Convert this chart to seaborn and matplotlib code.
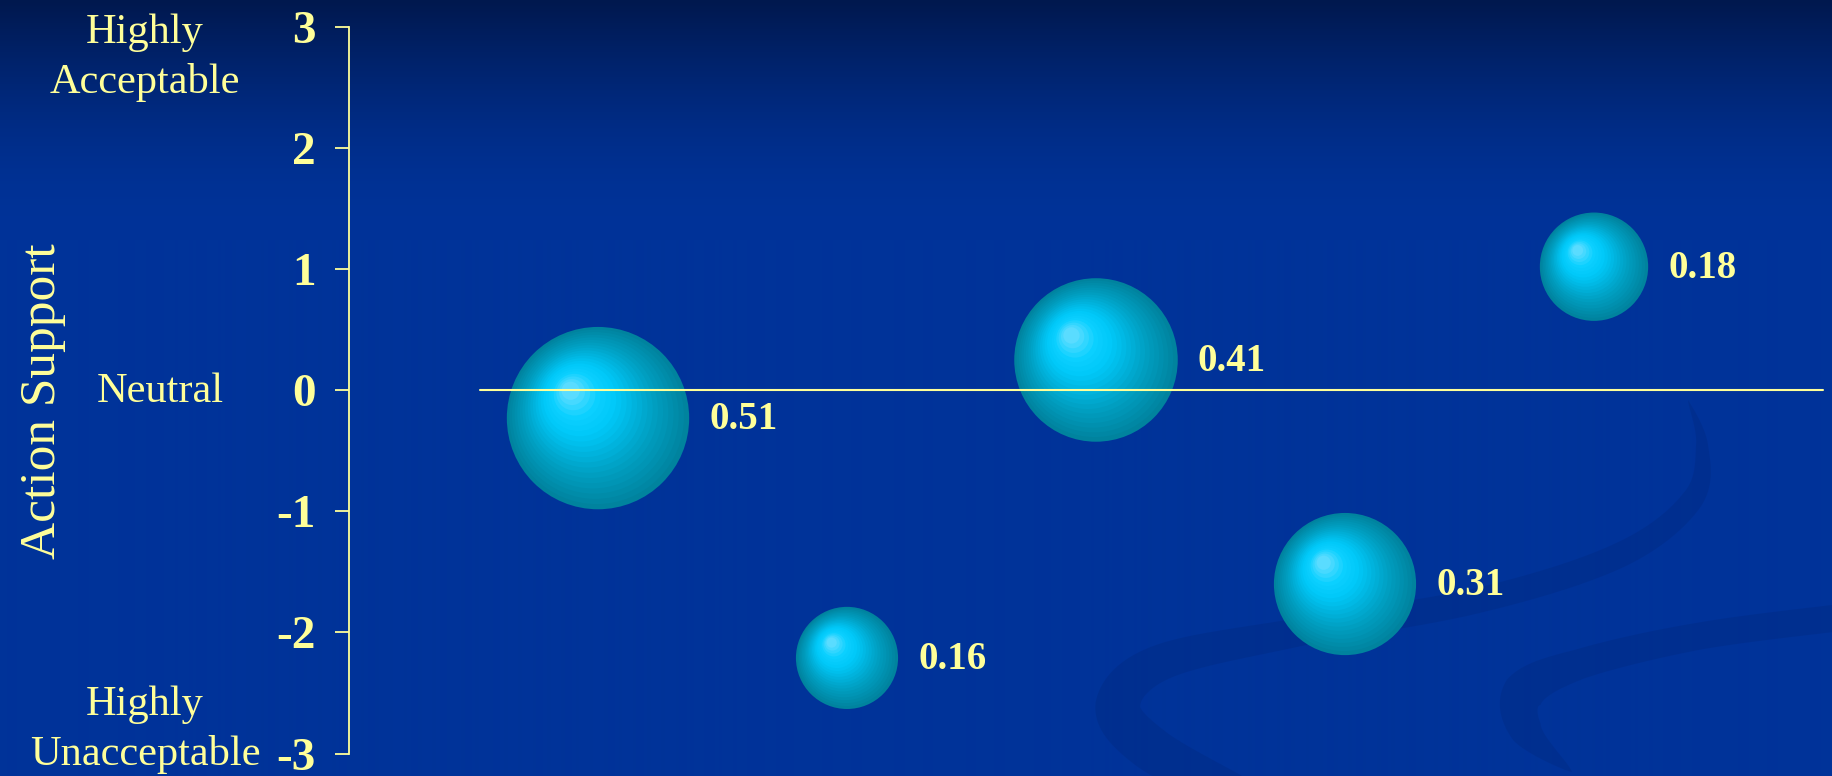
import numpy as np
import pandas as pd
import matplotlib
matplotlib.use("Agg")
import matplotlib.pyplot as plt
import seaborn as sns
from matplotlib.colors import LinearSegmentedColormap
from matplotlib.patches import Polygon

# ---------------- data ----------------
positions = [1, 2, 3, 4, 5]
support = [-0.23, -2.21, 0.25, -1.60, 1.02]
weights = [0.51, 0.16, 0.41, 0.31, 0.18]
weight_labels = ["0.51", "0.16", "0.41", "0.31", "0.18"]
y_ticks = [-3, -2, -1, 0, 1, 2, 3]
y_tick_labels = ["-3", "-2", "-1", "0", "1", "2", "3"]
y_axis_title = "Action Support"
top_anchor = "Highly\nAcceptable"
mid_anchor = "Neutral"
bottom_anchor = "Highly\nUnacceptable"

W, H, DPI = 1832, 776, 100
sns.set_theme(style="white")
plt.rcParams['font.family'] = ['Liberation Serif', 'DejaVu Serif']

YEL = '#ffff99'
BASE = np.array([0, 51, 153]) / 255
TOP = np.array([0, 24, 78]) / 255

fig = plt.figure(figsize=(W / DPI, H / DPI), dpi=DPI, facecolor=BASE)

# ---------------- background ----------------
bg = fig.add_axes([0, 0, 1, 1], zorder=-10)
rows = np.arange(H)
tt = np.clip(rows / 240.0, 0, 1)
tt = np.sin(tt * np.pi / 2)
grad = TOP[None, :] * (1 - tt[:, None]) + BASE[None, :] * tt[:, None]
img = np.repeat(grad[:, None, :], 2, axis=1)
bg.imshow(img, extent=[0, W, H, 0], aspect='auto', interpolation='bilinear')


def catmull(pts, n=24):
    pts = np.asarray(pts, float)
    P = np.vstack([pts[0], pts, pts[-1]])
    out = []
    for i in range(1, len(P) - 2):
        p0, p1, p2, p3 = P[i - 1], P[i], P[i + 1], P[i + 2]
        for s in np.linspace(0, 1, n, endpoint=False):
            out.append(0.5 * ((2 * p1) + (-p0 + p2) * s + (2 * p0 - 5 * p1 + 4 * p2 - p3) * s ** 2
                              + (-p0 + 3 * p1 - 3 * p2 + p3) * s ** 3))
    out.append(pts[-1])
    return np.array(out)


def band(center, widths):
    c = catmull(center)
    w = np.interp(np.linspace(0, 1, len(c)), np.linspace(0, 1, len(widths)), widths)
    d = np.gradient(c, axis=0)
    nrm = np.stack([-d[:, 1], d[:, 0]], 1)
    nrm /= np.linalg.norm(nrm, axis=1)[:, None]
    a = c + nrm * w[:, None] / 2
    b = c - nrm * w[:, None] / 2
    return np.vstack([a, b[::-1]])


swoosh1 = band([(1235, 795), (1150, 748), (1118, 705), (1162, 662), (1300, 632),
                (1480, 600), (1620, 555), (1692, 500), (1702, 445), (1688, 400)],
               [40, 45, 45, 36, 28, 25, 25, 22, 12, 0])
swoosh2 = band([(1572, 772), (1527, 732), (1524, 692), (1580, 664), (1700, 636), (1845, 617)],
               [0, 32, 42, 30, 27, 27])
for poly in (swoosh1, swoosh2):
    bg.add_patch(Polygon(poly, closed=True, facecolor='#00236f', edgecolor='none', alpha=0.22))
bg.set_xlim(0, W)
bg.set_ylim(H, 0)
bg.axis('off')

# ---------------- main axes ----------------
left_px, top_px, bot_px, unit_x = 349, 26.9, 753.6, 249
ax = fig.add_axes([left_px / W, (H - bot_px) / H, 1 - left_px / W, (bot_px - top_px) / H])
ax.set_facecolor('none')
xlim = (0, (W - left_px) / unit_x)
ylim = (-3, 3)
ax.set_xlim(*xlim)
ax.set_ylim(*ylim)

df = pd.DataFrame(dict(pos=positions, support=support, weight=weights, label=weight_labels))

K = 33800  # points^2 per unit of weight
vmin, vmax = min(weights), max(weights)
cmap = LinearSegmentedColormap.from_list(
    'bub', [(0, '#00839e'), (0.3, '#009fc2'), (0.65, '#00c8f8'), (0.82, '#0cd0ff'), (1, '#5adcff')])
N = 22
px_per_pt = DPI / 72
ux = ax.transData.transform((1, 0))[0] - ax.transData.transform((0, 0))[0]
uy = ax.transData.transform((0, 1))[1] - ax.transData.transform((0, 0))[1]
r_px = np.sqrt(K * df.weight) / 2 * px_per_pt

for i in range(N):
    t = i / (N - 1)
    f = 1 - 0.9 * t
    layer = df.copy()
    layer['x'] = df.pos - 0.3 * t * r_px / ux
    layer['y'] = df.support + 0.3 * t * r_px / uy
    sns.scatterplot(data=layer, x='x', y='y', size='weight',
                    sizes=(K * f * f * vmin, K * f * f * vmax), size_norm=(vmin, vmax),
                    color=cmap(t), linewidth=0, legend=False, ax=ax,
                    zorder=2 + i * 0.01, clip_on=False)

ax.set_xlim(*xlim)
ax.set_ylim(*ylim)

# neutral reference line
ax.axhline(0, xmin=0.526 / xlim[1], xmax=5.92 / xlim[1], color=YEL, lw=1.5, zorder=5)

# bubble labels
for _, row in df.iterrows():
    r_pt = np.sqrt(K * row.weight) / 2
    ax.annotate(row.label, (row.pos, row.support), xytext=(r_pt + 14.5, -1),
                textcoords='offset points', ha='left', va='center',
                fontsize=28, fontweight='bold', color=YEL, zorder=6)

# axis styling
ax.set_yticks(y_ticks)
ax.set_yticklabels(y_tick_labels, fontsize=34, fontweight='bold', color=YEL)
ax.set_xticks([])
ax.set_xlabel('')
ax.set_ylabel('')
ax.tick_params(axis='y', direction='out', length=10, width=1.3, color=YEL, pad=14, left=True)
for side in ['top', 'right', 'bottom']:
    ax.spines[side].set_visible(False)
ax.spines['left'].set_visible(True)
ax.spines['left'].set_color(YEL)
ax.spines['left'].set_linewidth(1.3)

# left-side texts
fig.text(145 / W, 1 - 57.5 / H, top_anchor, ha='center', va='center', fontsize=30.5,
         color=YEL, linespacing=1.35)
fig.text(160 / W, 1 - 392 / H, mid_anchor, ha='center', va='center', fontsize=30.5, color=YEL)
fig.text(145 / W, 1 - 730 / H, bottom_anchor, ha='center', va='center', fontsize=30.5,
         color=YEL, linespacing=1.35)
fig.text(43 / W, 1 - 401 / H, y_axis_title, rotation=90, ha='center', va='center',
         fontsize=37, color=YEL)

fig.savefig('out.png', dpi=DPI, facecolor=fig.get_facecolor())
